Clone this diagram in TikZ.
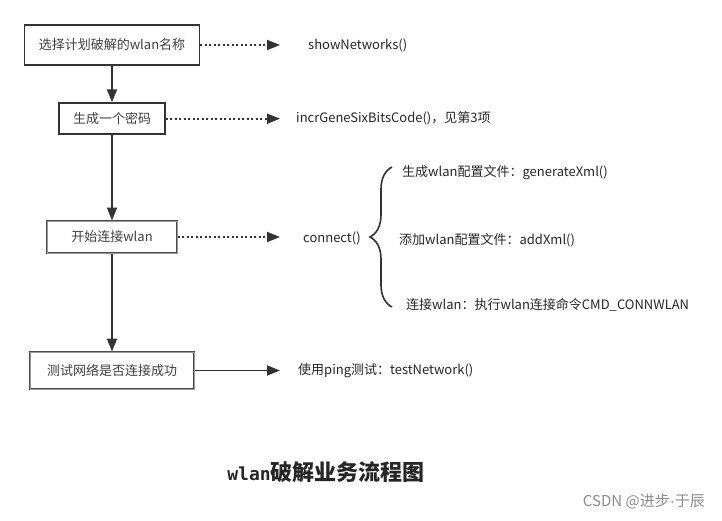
\documentclass[tikz,border=0pt]{standalone}
\usepackage{fontspec}
\setmainfont{Noto Sans CJK SC}
\newfontfamily\codefont{DejaVu Sans Mono}
\newfontfamily\latinfont{Liberation Sans}
\usetikzlibrary{arrows.meta,decorations.pathreplacing}

\begin{document}
\begin{tikzpicture}[x=1pt,y=-1pt,
        box/.style={draw=black!80,line width=1.8pt,fill=white,inner sep=0pt,text=black!75,font=\fontsize{13}{15}\selectfont},
        boxd/.style={box,line width=1pt,draw=black!70,double=black!40,double distance=0.9pt},
        lbl/.style={anchor=west,inner sep=0pt,text=black!85,font=\fontsize{13}{15}\selectfont},
        flow/.style={line width=1.8pt,draw=black!80,-{Triangle[length=13pt,width=10pt]}},
        call/.style={flow,dash pattern=on 2pt off 2.5pt}]
    \useasboundingbox (0,0) rectangle (722,520);
    % steps
    \node[box,minimum width=175pt,minimum height=40pt](pick) at (112,45){选择计划破解的wlan名称};
    \node[box,minimum width=106pt,minimum height=31pt](pwd) at (112,118.7){生成一个密码};
    \node[boxd,minimum width=130pt,minimum height=32pt](conn) at (112,237){开始连接wlan};
    \node[boxd,minimum width=164pt,minimum height=37pt](test) at (112,370.5){测试网络是否连接成功};
    \draw[flow](pick)--(pwd);
    \draw[flow](pwd)--(conn);
    \draw[flow](conn)--(test);
    % methods
    \coordinate(t1) at (280,45);
    \coordinate(t2) at (280,118.7);
    \coordinate(t3) at (280,237);
    \coordinate(t4) at (280,370.5);
    \node[lbl](m1) at (308,45){showNetworks()};
    \node[lbl](m2) at (296,118.7){incrGeneSixBitsCode()，见第3项};
    \node[lbl](m3) at (303,238){connect()};
    \node[lbl](m4) at (298,371){使用ping测试：testNetwork()};
    \draw[call](pick)--(t1);
    \draw[call](pwd)--(t2);
    \draw[call](conn)--(t3);
    \draw[flow](test)--(t4);
    % connect() parts
    \coordinate(brbot) at (392,307);
    \coordinate(brtop) at (392,167);
    \draw[line width=1.6pt,draw=black!80,decorate,decoration={brace,amplitude=22pt}](brbot)--(brtop);
    \node[lbl](s1) at (402,173){生成wlan配置文件：generateXml()};
    \node[lbl](s2) at (399,240){添加wlan配置文件：addXml()};
    \node[lbl](s3) at (406,305){连接wlan：执行wlan连接命令CMD\_CONNWLAN};
    % caption
    \node[text=black!85,font=\fontsize{22}{24}\selectfont\bfseries](title) at (326,472){{\codefont\bfseries\fontsize{18}{20}\selectfont wlan}破解业务流程图};
    \node[anchor=east,inner sep=0pt,text=black!45,font=\fontsize{15}{17}\selectfont](mark) at (705,501){CSDN @进步{\latinfont·}于辰};
\end{tikzpicture}
\end{document}
